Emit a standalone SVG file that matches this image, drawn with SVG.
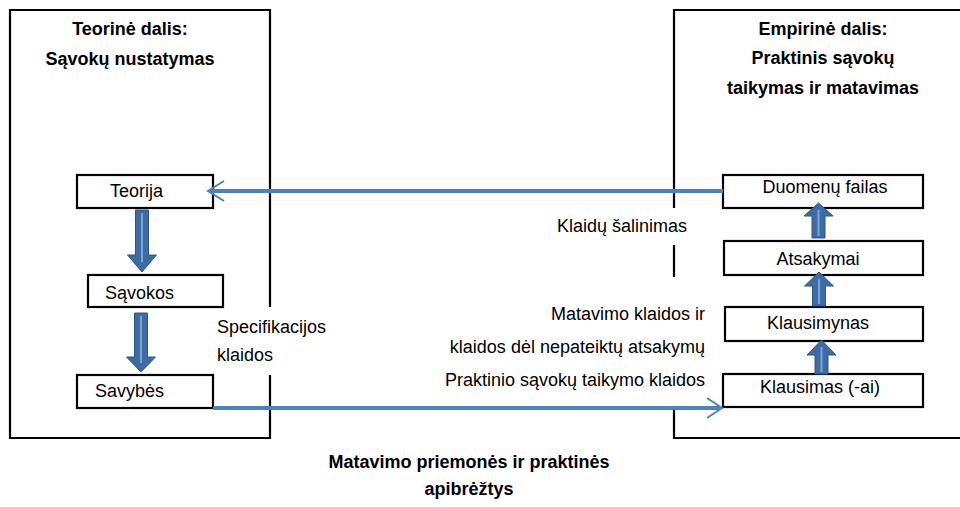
<svg xmlns="http://www.w3.org/2000/svg" width="960" height="507" viewBox="0 0 960 507">
<defs>
<style>
.frame{fill:none;stroke:#000;stroke-width:2.2}
.node{fill:#fff;stroke:#000;stroke-width:2.2}
.t{font-family:"Liberation Sans",Arial,sans-serif;font-size:18px;fill:#000}
.b{font-weight:bold;text-anchor:middle}
.m{text-anchor:middle}
.e{text-anchor:end}
.blk{fill:#3d6ca4;stroke:#2d5689;stroke-width:1}
.hl{stroke:#7aa3d6;stroke-width:2;fill:none}
.ln{stroke:#4f81bd;stroke-width:4;fill:none}
.hd{stroke:#4f81bd;stroke-width:2;fill:none}
</style>
</defs>
<rect width="960" height="507" fill="#fff"/>
<g id="frames">
<path class="frame" d="M270,307 V10 H10 V438 H270 V375"/>
<path class="frame" d="M961,10 H674 V208 M674,245 V277 M674,408 V438 H961"/>
</g>
<g id="titles">
<text class="t b" x="130" y="35">Teorinė dalis:</text>
<text class="t b" x="130" y="65">Sąvokų nustatymas</text>
<text class="t b" x="823" y="35">Empirinė dalis:</text>
<text class="t b" x="823" y="64">Praktinis sąvokų</text>
<text class="t b" x="823" y="94">taikymas ir matavimas</text>
<text class="t b" x="469" y="468">Matavimo priemonės ir praktinės</text>
<text class="t b" x="469" y="495">apibrėžtys</text>
</g>
<g id="node-teorija">
<rect class="node" x="77" y="175" width="136" height="33"/>
<text class="t" x="110" y="197">Teorija</text>
</g>
<g id="node-savokos">
<rect class="node" x="88" y="275" width="135" height="32"/>
<text class="t" x="105" y="299">Sąvokos</text>
</g>
<g id="node-savybes">
<rect class="node" x="77" y="375" width="136" height="33"/>
<text class="t" x="95" y="397">Savybės</text>
</g>
<g id="node-duomenu">
<rect class="node" x="723" y="175" width="200" height="33"/>
<text class="t m" x="825" y="193">Duomenų failas</text>
</g>
<g id="node-atsakymai">
<rect class="node" x="724" y="241" width="199" height="34"/>
<text class="t m" x="818" y="265">Atsakymai</text>
</g>
<g id="node-klausimynas">
<rect class="node" x="725" y="307" width="198" height="34"/>
<text class="t m" x="818" y="329">Klausimynas</text>
</g>
<g id="node-klausimas">
<rect class="node" x="723" y="374" width="200" height="33"/>
<text class="t m" x="820" y="393">Klausimas (-ai)</text>
</g>
<g id="labels">
<text class="t" x="217" y="333">Specifikacijos</text>
<text class="t" x="217" y="361">klaidos</text>
<text class="t" x="557" y="232">Klaidų šalinimas</text>
<text class="t e" x="705" y="320">Matavimo klaidos ir</text>
<text class="t e" x="705" y="353">klaidos dėl nepateiktų atsakymų</text>
<text class="t e" x="705" y="386">Praktinio sąvokų taikymo klaidos</text>
</g>
<g id="connectors">
<path class="blk" d="M135.5,210 H148.5 V255 H156.5 L142,272 L127.5,255 H135.5 Z"/>
<path class="hl" d="M142,213 V262"/>
<path class="blk" d="M134.5,313 H147.5 V357 H155.5 L141,372 L126.5,357 H134.5 Z"/>
<path class="hl" d="M141,316 V363"/>
<path class="blk" d="M812,238 H825 V216 H833 L818.5,203 L804,216 H812 Z"/>
<path class="hl" d="M818.5,236 V210"/>
<path class="blk" d="M812.5,306 H825.5 V286 H833.5 L819,272 L804.5,286 H812.5 Z"/>
<path class="hl" d="M819,304 V279"/>
<path class="blk" d="M815,374 H828 V355 H836 L821.5,340 L807,355 H815 Z"/>
<path class="hl" d="M821.5,372 V347"/>
<path class="ln" d="M723,191 H210"/>
<path class="hd" d="M224,181 L208,191 L224,201"/>
<path class="ln" d="M213,408 H720"/>
<path class="hd" d="M707,398 L722,408 L707,418"/>
</g>
</svg>
